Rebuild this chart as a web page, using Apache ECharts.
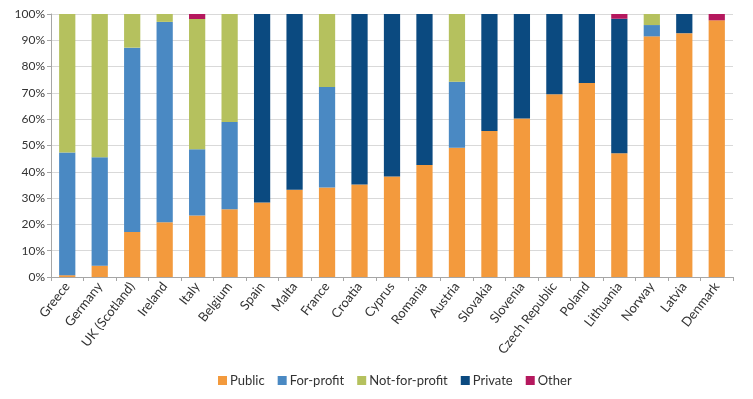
<!DOCTYPE html>
<html>
<head>
<meta charset="utf-8">
<script src="https://cdn.jsdelivr.net/npm/echarts@6/dist/echarts.min.js"></script>
<style>
  html, body { margin: 0; padding: 0; background: #fff; }
  #chart { width: 753px; height: 399px; }
</style>
</head>
<body>
<div id="chart"></div>
<script>
// 各国长期护理机构所有制构成（%）
const countries = ["Greece", "Germany", "UK (Scotland)", "Ireland", "Italy", "Belgium", "Spain", "Malta", "France", "Croatia", "Cyprus", "Romania", "Austria", "Slovakia", "Slovenia", "Czech Republic", "Poland", "Lithuania", "Norway", "Latvia", "Denmark"];
const publicData = [0.7, 4.3, 17.1, 20.8, 23.4, 25.8, 28.3, 33.2, 34.0, 35.2, 38.2, 42.6, 49.1, 55.5, 60.3, 69.5, 73.8, 47.1, 91.5, 92.7, 97.6];
const forProfit = [46.6, 41.2, 70.1, 76.2, 25.2, 33.1, 0, 0, 38.2, 0, 0, 0, 25.1, 0, 0, 0, 0, 0, 4.3, 0, 0];
const notForProfit = [52.7, 54.5, 12.8, 3.0, 49.5, 41.1, 0, 0, 27.8, 0, 0, 0, 25.8, 0, 0, 0, 0, 0, 4.2, 0, 0];
const privateData = [0, 0, 0, 0, 0, 0, 71.7, 66.8, 0, 64.8, 61.8, 57.4, 0, 44.5, 39.7, 30.5, 26.2, 51.1, 0, 7.3, 0];
const otherData = [0, 0, 0, 0, 1.9, 0, 0, 0, 0, 0, 0, 0, 0, 0, 0, 0, 0, 1.8, 0, 0, 2.4];

const chart = echarts.init(document.getElementById("chart"));

const makeSeries = (name, data, color) => ({
  name: name,
  type: "bar",
  stack: "total",
  barWidth: "50%",
  data: data,
  itemStyle: { color: color },
});

const option = {
  animation: false,
  textStyle: { fontFamily: "Lato" },
  grid: { left: 51, right: 20, top: 14, bottom: 122 },
  legend: {
    bottom: 7,
    left: 213,
    itemWidth: 9,
    itemHeight: 9,
    itemGap: 13,
    icon: "rect",
    textStyle: { color: "#333", fontSize: 13, padding: [0, 0, 0, -2] },
  },
  xAxis: {
    type: "category",
    data: countries,
    axisLine: { lineStyle: { color: "#a6a6a6" } },
    axisTick: { show: true, length: 4, lineStyle: { color: "#a6a6a6" } },
    axisLabel: {
      interval: 0,
      rotate: 52,
      margin: 7,
      color: "#333",
      fontSize: 13,
    },
  },
  yAxis: {
    type: "value",
    min: 0,
    max: 100,
    interval: 10,
    axisLine: { show: true, lineStyle: { color: "#a6a6a6" } },
    axisTick: { show: true, length: 4, lineStyle: { color: "#a6a6a6" } },
    splitLine: { lineStyle: { color: "#d9d9d9" } },
    axisLabel: { formatter: "{value}%", color: "#333", fontSize: 12, margin: 6 },
  },
  series: [
    makeSeries("Public", publicData, "#f39a3d"),
    makeSeries("For-profit", forProfit, "#4a89c3"),
    makeSeries("Not-for-profit", notForProfit, "#b5c15e"),
    makeSeries("Private", privateData, "#0b4a80"),
    makeSeries("Other", otherData, "#b5185e"),
  ],
};

chart.setOption(option);
</script>
</body>
</html>
